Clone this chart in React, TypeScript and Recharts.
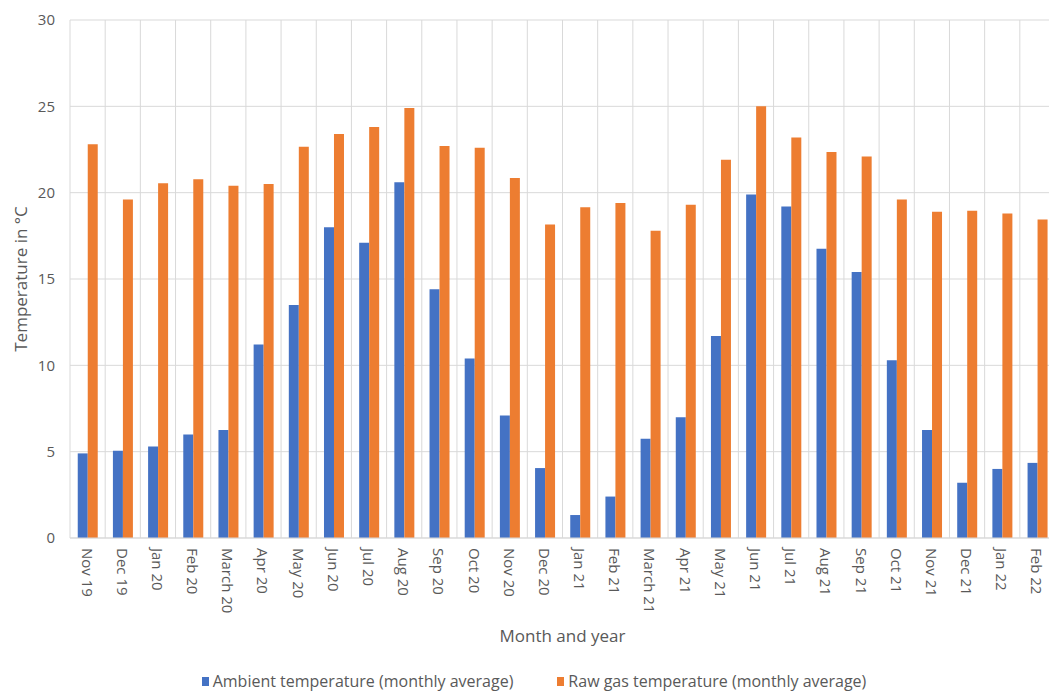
import React from "react"
import { BarChart, Bar, XAxis, YAxis, CartesianGrid } from "recharts"

const months = [
  "Nov 19", "Dec 19", "Jan 20", "Feb 20", "March 20", "Apr 20", "May 20",
  "Jun 20", "Jul 20", "Aug 20", "Sep 20", "Oct 20", "Nov 20", "Dec 20",
  "Jan 21", "Feb 21", "March 21", "Apr 21", "May 21", "Jun 21", "Jul 21",
  "Aug 21", "Sep 21", "Oct 21", "Nov 21", "Dec 21", "Jan 22", "Feb 22",
]

const ambient = [
  4.9, 5.05, 5.3, 6.0, 6.25, 11.2, 13.5, 18.0, 17.1, 20.6, 14.4, 10.4, 7.1, 4.05,
  1.33, 2.4, 5.75, 7.0, 11.7, 19.9, 19.2, 16.75, 15.4, 10.3, 6.25, 3.2, 4.0, 4.35,
]

const rawGas = [
  22.8, 19.6, 20.55, 20.77, 20.4, 20.5, 22.66, 23.4, 23.8, 24.9, 22.7, 22.6, 20.85, 18.15,
  19.15, 19.4, 17.8, 19.3, 21.9, 25.0, 23.2, 22.35, 22.1, 19.6, 18.9, 18.95, 18.8, 18.45,
]

const yTicks = [0, 5, 10, 15, 20, 25, 30]

const seriesNames = [
  "Ambient temperature (monthly average)",
  "Raw gas temperature (monthly average)",
]
const seriesColors = ["#4472C4", "#ED7D31"]

const data = months.map((month, i) => ({
  month,
  ambient: ambient[i],
  rawGas: rawGas[i],
}))

const FONT = "'Open Sans', sans-serif"
const TEXT = "#595959"

const MonthTick = (props: any) => {
  const { x, y, payload } = props
  const ty = y + 2
  return (
    <text
      x={x}
      y={ty}
      transform={`rotate(90, ${x}, ${ty})`}
      textAnchor="start"
      dominantBaseline="central"
      fontSize={15}
      fontFamily={FONT}
      fill={TEXT}
    >
      {payload.value}
    </text>
  )
}

const XTitle = (props: any) => {
  const { viewBox } = props
  const cx = viewBox.x + viewBox.width / 2
  return (
    <text x={cx} y={635} textAnchor="middle" dominantBaseline="central"
      fontSize={17} fontFamily={FONT} fill={TEXT}>
      Month and year
    </text>
  )
}

const YTitle = (props: any) => {
  const { viewBox } = props
  const cx = 20
  const cy = viewBox.y + viewBox.height / 2
  return (
    <text x={cx} y={cy} transform={`rotate(-90, ${cx}, ${cy})`} textAnchor="middle"
      dominantBaseline="central" fontSize={17} fontFamily={FONT} fill={TEXT}>
      Temperature in °C
    </text>
  )
}

const App = () => {
  return (
    <div style={{ position: "absolute", left: 0, top: 0, width: 1049, height: 691, overflow: "hidden", background: "#fff", fontFamily: FONT }}>
      <BarChart
        width={1058}
        height={691}
        data={data}
        margin={{ top: 20, right: 3, bottom: 0, left: 0 }}
        barCategoryGap="22%"
        barGap={0}
      >
        <CartesianGrid
          stroke="#d9d9d9"
          verticalCoordinatesGenerator={({ offset }: any) =>
            Array.from({ length: months.length + 1 }, (_, i) => offset.left + (i * offset.width) / months.length)
          }
        />
        <XAxis
          dataKey="month"
          interval={0}
          height={153}
          tickLine={false}
          axisLine={{ stroke: "#d9d9d9" }}
          tick={<MonthTick />}
          label={<XTitle />}
        />
        <YAxis
          width={70}
          domain={[0, 30]}
          ticks={yTicks}
          tickLine={false}
          axisLine={false}
          tickMargin={9}
          tick={{ fill: TEXT, fontSize: 15, fontFamily: FONT }}
          label={<YTitle />}
        />
        <Bar dataKey="ambient" name={seriesNames[0]} fill={seriesColors[0]} isAnimationActive={false} />
        <Bar dataKey="rawGas" name={seriesNames[1]} fill={seriesColors[1]} isAnimationActive={false} />
      </BarChart>
      <div style={{ position: "absolute", left: 0, top: 671, width: 1068, display: "flex", justifyContent: "center", gap: 44, fontSize: 16, color: TEXT }}>
        {seriesNames.map((name, i) => (
          <div key={name} style={{ display: "flex", alignItems: "center", gap: 4, lineHeight: "20px" }}>
            <span style={{ width: 7, height: 9, background: seriesColors[i], display: "inline-block" }} />
            <span>{name}</span>
          </div>
        ))}
      </div>
    </div>
  )
}

export default App
